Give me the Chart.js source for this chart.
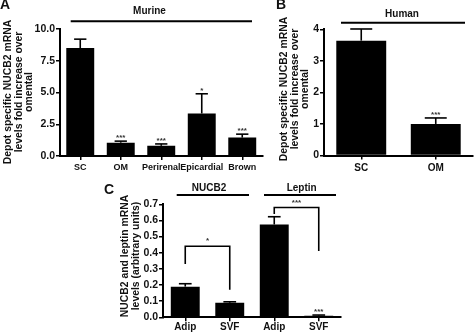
<!DOCTYPE html>
<html>
<head>
<meta charset="utf-8">
<script src="https://cdn.jsdelivr.net/npm/chart.js@4"></script>
<style>
  body { margin: 0; background: #fff; }
  #figure { position: relative; width: 474px; height: 333px; overflow: hidden; background: #fff; }
  #figure canvas { position: absolute; }
</style>
</head>
<body>
<div id="figure">
  <canvas id="murine-chart" width="265" height="180" style="left:0;top:0"></canvas>
  <canvas id="human-chart" width="234" height="180" style="left:240px;top:0"></canvas>
  <canvas id="cell-chart" width="250" height="153" style="left:100px;top:180px"></canvas>
</div>
<script>
// Panel A - murine fat depots (fold over omental)
var murineDepots = ['SC', 'OM', 'Perirenal', 'Epicardial', 'Brown'];
var murineMeans = [8.5, 1.05, 0.8, 3.35, 1.45];
var murineSem = [0.7, 0.12, 0.15, 1.55, 0.27];
var murineStars = ['', '***', '***', '*', '***'];
var murineTicks = [0, 2.5, 5, 7.5, 10];

// Panel B - human fat depots
var humanDepots = ['SC', 'OM'];
var humanMeans = [3.64, 1.0];
var humanSem = [0.37, 0.19];
var humanStars = ['', '***'];
var humanTicks = [0, 1, 2, 3, 4];

// Panel C - adipocytes vs stromal vascular fraction
var cellGenes = ['NUCB2', 'Leptin'];
var cellFractions = ['Adip', 'SVF', 'Adip', 'SVF'];
var cellMeans = [0.19, 0.09, 0.575, 0.01];
var cellSem = [0.018, 0.006, 0.048, 0.004];
var cellStars = ['', '', '', '***'];
var cellTicks = [0, 0.1, 0.2, 0.3, 0.4, 0.5, 0.6, 0.7];
// bracket: [from index, to index, bar height, left leg end, right leg end, label]
var cellBrackets = [
    [0, 1, 0.44, 0.33, 0.17, '*'],
    [2, 3, 0.68, 0.64, 0.41, '***']
];

var yTitle = ['Depot specific NUCB2 mRNA', 'levels fold increase over', 'omental'];
var cellTitle = ['NUCB2 and leptin mRNA', 'levels (arbitrary units)'];

var FONT = '"Liberation Sans", Arial, sans-serif';

function drawText(ctx, text, x, y, size, align, baseline, color) {
    ctx.save();
    ctx.font = 'bold ' + size + 'px ' + FONT;
    ctx.fillStyle = color || '#111';
    ctx.textAlign = align || 'center';
    ctx.textBaseline = baseline || 'middle';
    ctx.fillText(text, x, y);
    ctx.restore();
}

function drawRotated(ctx, lines, xs, cy, size) {
    ctx.save();
    ctx.font = 'bold ' + size + 'px ' + FONT;
    ctx.fillStyle = '#111';
    ctx.textAlign = 'center';
    ctx.textBaseline = 'middle';
    lines.forEach(function (line, i) {
        ctx.save();
        ctx.translate(xs[i], cy);
        ctx.rotate(-Math.PI / 2);
        ctx.fillText(line, 0, 0);
        ctx.restore();
    });
    ctx.restore();
}

function drawLine(ctx, x1, y1, x2, y2, w) {
    ctx.save();
    ctx.strokeStyle = '#000';
    ctx.lineWidth = w || 2;
    ctx.beginPath();
    ctx.moveTo(x1, y1);
    ctx.lineTo(x2, y2);
    ctx.stroke();
    ctx.restore();
}

// error bars (upper half only) with stars above the cap
function errorBarPlugin(sem, stars, starSize) {
    return {
        id: 'errorBars',
        afterDatasetsDraw: function (chart) {
            var ctx = chart.ctx;
            var meta = chart.getDatasetMeta(0);
            var y = chart.scales.y;
            var means = chart.data.datasets[0].data;
            meta.data.forEach(function (bar, i) {
                var top = y.getPixelForValue(means[i] + sem[i]);
                var half = bar.width * 0.22;
                drawLine(ctx, bar.x, bar.y, bar.x, top, 1.6);
                drawLine(ctx, bar.x - half, top, bar.x + half, top, 1.6);
                if (stars[i]) {
                    drawText(ctx, stars[i], bar.x, top - 1, starSize, 'center', 'alphabetic', '#333');
                }
            });
        }
    };
}

function notesPlugin(draw) {
    return { id: 'notes', afterDraw: function (chart) { draw(chart.ctx, chart); } };
}

function axisOptions(ticks, yWidth, xHeight, fmt, xPad, xSize) {
    return {
        x: {
            grid: { drawOnChartArea: false, offset: false, color: '#000', lineWidth: 1.5, tickLength: 4 },
            border: { color: '#000', width: 2 },
            ticks: { color: '#111', padding: xPad, font: { family: FONT, size: xSize, weight: 'bold' }, maxRotation: 0, autoSkip: false },
            afterFit: function (scale) { scale.height = xHeight; }
        },
        y: {
            min: ticks[0],
            max: ticks[ticks.length - 1],
            grid: { drawOnChartArea: false, color: '#000', lineWidth: 1.5, tickLength: 4 },
            border: { color: '#000', width: 2 },
            ticks: { color: '#111', padding: 1, font: { family: FONT, size: 10.5, weight: 'bold' }, callback: fmt },
            afterBuildTicks: function (scale) {
                scale.ticks = ticks.map(function (v) { return { value: v }; });
            },
            afterFit: function (scale) { scale.width = yWidth; }
        }
    };
}

function barData(labels, values, pct) {
    return {
        labels: labels,
        datasets: [{
            data: values,
            backgroundColor: '#000',
            borderWidth: 0,
            categoryPercentage: 1,
            barPercentage: pct
        }]
    };
}

var common = {
    responsive: false,
    animation: false,
    events: [],
    plugins: { legend: { display: false }, tooltip: { enabled: false } }
};

document.addEventListener('DOMContentLoaded', function () {
    var murineCtx = document.getElementById('murine-chart').getContext('2d');
    var murineChart = new Chart(murineCtx, {
        type: 'bar',
        data: barData(murineDepots, murineMeans, 0.69),
        options: Object.assign({}, common, {
            layout: { padding: { top: 29, right: 2.5, bottom: 0, left: 0 } },
            scales: axisOptions(murineTicks, 60, 24, function (v) { return Number(v).toFixed(1); }, 2, 9)
        }),
        plugins: [
            errorBarPlugin(murineSem, murineStars, 8),
            notesPlugin(function (ctx) {
                drawText(ctx, 'A', 0, 5, 14, 'left');
                drawText(ctx, 'Murine', 149.5, 11, 10);
                drawLine(ctx, 70.7, 21.3, 252, 21.3, 2);
                drawRotated(ctx, yTitle, [8.5, 19, 29.5], 92, 10.4);
            })
        ]
    });

    var humanCtx = document.getElementById('human-chart').getContext('2d');
    var humanChart = new Chart(humanCtx, {
        type: 'bar',
        data: barData(humanDepots, humanMeans, 0.67),
        options: Object.assign({}, common, {
            layout: { padding: { top: 29.3, right: 1, bottom: 0, left: 0 } },
            scales: axisOptions(humanTicks, 84, 24.5, function (v) { return v; }, 3, 10)
        }),
        plugins: [
            errorBarPlugin(humanSem, humanStars, 8),
            notesPlugin(function (ctx) {
                drawText(ctx, 'B', 36, 5, 14, 'left');
                drawText(ctx, 'Human', 162, 14.3, 10);
                drawLine(ctx, 101, 22.7, 225, 22.7, 2);
                drawRotated(ctx, yTitle, [44.5, 55, 65.5], 89, 10.4);
            })
        ]
    });

    var cellCtx = document.getElementById('cell-chart').getContext('2d');
    var cellChart = new Chart(cellCtx, {
        type: 'bar',
        data: barData(cellFractions, cellMeans, 0.65),
        options: Object.assign({}, common, {
            layout: { padding: { top: 24.3, right: 9, bottom: 0, left: 0 } },
            scales: axisOptions(cellTicks, 63, 15.7, function (v) { return Number(v).toFixed(1); }, 0, 10)
        }),
        plugins: [
            errorBarPlugin(cellSem, cellStars, 8),
            notesPlugin(function (ctx, chart) {
                var x = chart.scales.x, y = chart.scales.y;
                drawText(ctx, 'C', 4, 10, 14, 'left');
                drawText(ctx, cellGenes[0], 109, 8.3, 10);
                drawLine(ctx, 76.7, 15, 149, 15, 2);
                drawText(ctx, cellGenes[1], 201.7, 8, 10);
                drawLine(ctx, 164, 15, 236, 15, 2);
                drawRotated(ctx, cellTitle, [25, 36], 76, 10.4);
                cellBrackets.forEach(function (b) {
                    var x1 = x.getPixelForValue(b[0]);
                    var x2 = x.getPixelForValue(b[1]);
                    var yb = y.getPixelForValue(b[2]);
                    ctx.save();
                    ctx.strokeStyle = '#000';
                    ctx.lineWidth = 1.6;
                    ctx.beginPath();
                    ctx.moveTo(x1, y.getPixelForValue(b[3]));
                    ctx.lineTo(x1, yb);
                    ctx.lineTo(x2, yb);
                    ctx.lineTo(x2, y.getPixelForValue(b[4]));
                    ctx.stroke();
                    ctx.restore();
                    drawText(ctx, b[5], (x1 + x2) / 2, yb - 3, 8, 'center', 'alphabetic', '#333');
                });
            })
        ]
    });
});
</script>
</body>
</html>
